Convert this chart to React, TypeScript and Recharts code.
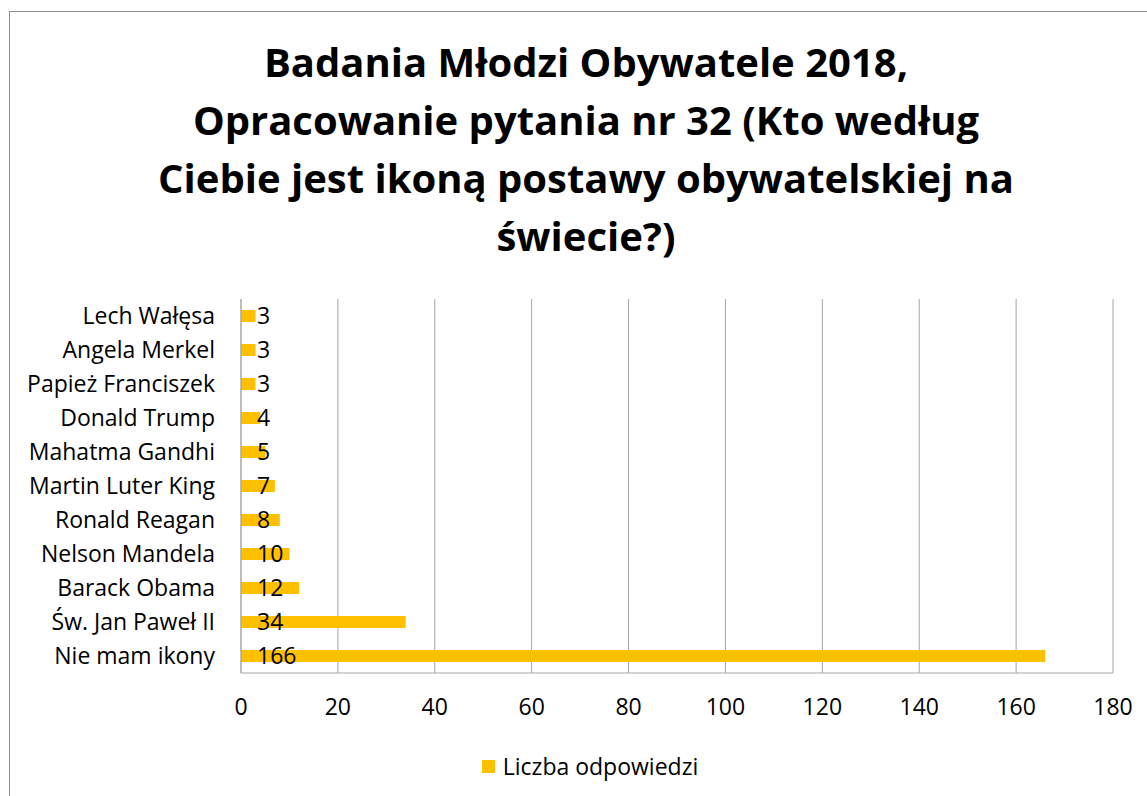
import React from 'react';
import { BarChart, Bar, XAxis, YAxis, CartesianGrid, Legend, LabelList } from 'recharts';

const names = [
    'Lech Wałęsa',
    'Angela Merkel',
    'Papież Franciszek',
    'Donald Trump',
    'Mahatma Gandhi',
    'Martin Luter King',
    'Ronald Reagan',
    'Nelson Mandela',
    'Barack Obama',
    'Św. Jan Paweł II',
    'Nie mam ikony',
];
const answers = [3, 3, 3, 4, 5, 7, 8, 10, 12, 34, 166];
const xTicks = [0, 20, 40, 60, 80, 100, 120, 140, 160, 180];
const titleLines = [
    'Badania Młodzi Obywatele 2018,',
    'Opracowanie pytania nr 32 (Kto według',
    'Ciebie jest ikoną postawy obywatelskiej na',
    'świecie?)',
];
const seriesName = 'Liczba odpowiedzi';

const FONT = '"Open Sans", Lato, sans-serif';
const GOLD = '#FFC000';
const GRID = '#a6a6a6';

const data = names.map((name, i) => ({ name, value: answers[i] }));

function ValueLabel(props: any) {
    const { x, y, height, value } = props;
    return (
        <text x={x + 16} y={y + height / 2} dy="0.36em" fontSize={23} fontFamily={FONT} fill="#000">
            {value}
        </text>
    );
}

function LegendContent() {
    return (
        <div style={{ display: 'flex', justifyContent: 'center', alignItems: 'center', fontFamily: FONT, fontSize: 23, color: '#000' }}>
            <span style={{ width: 13, height: 13, background: GOLD, display: 'inline-block', marginRight: 8 }} />
            <span>{seriesName}</span>
        </div>
    );
}

export default function App() {
    return (
        <div style={{ position: 'fixed', left: 0, top: 0, width: 1147, height: 796, overflow: 'hidden', background: '#fff' }}>
            <div style={{ position: 'absolute', left: 9, top: 11, width: 1160, height: 800, border: '1px solid #8f8f8f', boxSizing: 'border-box' }} />
            <svg width={1147} height={290} style={{ position: 'absolute', left: 0, top: 0 }}>
                {titleLines.map((line, i) => (
                    <text key={i} x={586} y={77 + i * 58} textAnchor="middle" fontFamily={FONT} fontWeight="bold" fontSize={40} fill="#000">
                        {line}
                    </text>
                ))}
            </svg>
            <div style={{ position: 'absolute', left: 0, top: 0 }}>
                <BarChart width={1147} height={796} data={data} layout="vertical" margin={{ top: 299, right: 34, bottom: 73, left: 0 }}>
                    <CartesianGrid horizontal={false} stroke={GRID} />
                    <XAxis
                        type="number"
                        domain={[0, 180]}
                        ticks={xTicks}
                        height={50}
                        tickLine={false}
                        tickSize={0}
                        tickMargin={26}
                        axisLine={{ stroke: GRID }}
                        tick={{ fill: '#000', fontSize: 23, fontFamily: FONT }}
                    />
                    <YAxis
                        type="category"
                        dataKey="name"
                        width={241}
                        interval={0}
                        tickLine={false}
                        tickSize={0}
                        tickMargin={26}
                        axisLine={{ stroke: GRID }}
                        tick={{ fill: '#000', fontSize: 23, fontFamily: FONT }}
                    />
                    <Legend
                        layout="horizontal"
                        verticalAlign="middle"
                        align="center"
                        wrapperStyle={{ top: 750, left: 0, width: 1180 }}
                        content={<LegendContent />}
                    />
                    <Bar dataKey="value" name={seriesName} fill={GOLD} barSize={12} isAnimationActive={false}>
                        <LabelList dataKey="value" content={<ValueLabel />} />
                    </Bar>
                </BarChart>
            </div>
        </div>
    );
}
